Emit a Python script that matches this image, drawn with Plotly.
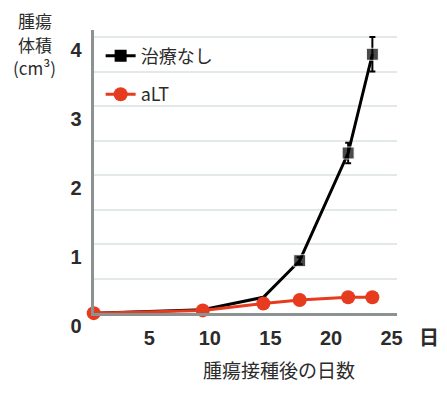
import plotly.graph_objects as go

# Data
days_ctrl = [0, 9, 14, 17, 21, 23]
vol_ctrl = [0.0, 0.05, 0.23, 0.76, 2.32, 3.75]
err_ctrl = [0.0, 0.0, 0.0, 0.05, 0.15, 0.25]
ctrl_marker_sizes = [0, 0, 0, 12, 12, 12]

days_alt = [0, 9, 14, 17, 21, 23]
vol_alt = [0.0, 0.04, 0.14, 0.19, 0.23, 0.23]

x_ticks = [5, 10, 15, 20, 25]
y_ticks = [0, 1, 2, 3, 4]

name_ctrl = "治療なし"
name_alt = "aLT"
y_title_lines = ["腫瘍", "体積", "(cm³)"]
x_title = "腫瘍接種後の日数"
x_unit = "日"

W, H = 447, 403
RED = "#e63b1e"
TXT = "#2b2b2b"
CJK = "Noto Sans CJK JP, Noto Sans, sans-serif"
NUM = "Liberation Sans Narrow, Arial Narrow, Liberation Sans, sans-serif"

fig = go.Figure()
# legend entry for the untreated series
fig.add_trace(go.Scatter(
    x=[None], y=[None], name=name_ctrl, mode="lines+markers", legendgroup="a",
    line=dict(color="black", width=3),
    marker=dict(symbol="square", size=12, color="black"),
))
fig.add_trace(go.Scatter(
    x=days_ctrl, y=vol_ctrl, name=name_ctrl, mode="lines+markers", showlegend=False,
    line=dict(color="black", width=3), cliponaxis=False,
    marker=dict(symbol="square", size=ctrl_marker_sizes, color="black"),
    error_y=dict(type="data", array=err_ctrl, color="black", thickness=2, width=3),
))
fig.add_trace(go.Scatter(
    x=days_alt, y=vol_alt, name=name_alt, mode="lines+markers", legendgroup="b",
    line=dict(color=RED, width=3), cliponaxis=False,
    marker=dict(symbol="circle", size=14, color=RED),
))

annotations = []
for i, line in enumerate(y_title_lines):
    annotations.append(dict(
        text=line, x=35 / W, y=1 - (22 + 25 * i) / H, xref="paper", yref="paper",
        xanchor="center", yanchor="middle", showarrow=False,
        font=dict(family=CJK, size=17, color=TXT)))
annotations += [
    dict(text=x_title, x=283 / W, y=1 - 393 / H, xref="paper", yref="paper",
         xanchor="center", yanchor="middle",
         showarrow=False, font=dict(family=CJK, size=19, color=TXT)),
    dict(text=x_unit, x=435 / W, y=1 - 358 / H, xref="paper", yref="paper",
         xanchor="center", yanchor="middle",
         showarrow=False, font=dict(family=CJK, size=20, color=TXT, weight="bold")),
]

x0, x1 = 95, 402
y_bot, y_top = 333, 32
fig.update_layout(
    width=W, height=H, autosize=False,
    margin=dict(l=0, r=0, t=0, b=0),
    paper_bgcolor="white", plot_bgcolor="white",
    showlegend=True,
    legend=dict(x=102 / W, y=1 - 40 / H, xanchor="left", yanchor="top",
                font=dict(family=CJK, size=18, color=TXT),
                itemwidth=30, tracegroupgap=12, bgcolor="rgba(0,0,0,0)"),
    xaxis=dict(domain=[x0 / W, x1 / W], range=[0, 25], tickvals=x_ticks,
               showgrid=False, zeroline=False, showline=True, linecolor="#8c9292",
               linewidth=3, ticks="", ticklabelshift=-5, ticklabelstandoff=5,
               tickfont=dict(family=NUM, size=20, color=TXT, weight="bold")),
    yaxis=dict(domain=[(H - y_bot) / H, (H - y_top) / H], range=[0, 4.1], tickvals=y_ticks,
               showgrid=True, gridcolor="#e3e8e8", gridwidth=2,
               minor=dict(dtick=0.5, showgrid=True, gridcolor="#e3e8e8", gridwidth=2),
               zeroline=False, showline=True, linecolor="#8c9292", linewidth=3,
               ticks="", ticklabelshift=13, ticklabelstandoff=5,
               tickfont=dict(family=NUM, size=20, color=TXT, weight="bold")),
    annotations=annotations,
)

fig.write_html("out.html", config={"responsive": False})
